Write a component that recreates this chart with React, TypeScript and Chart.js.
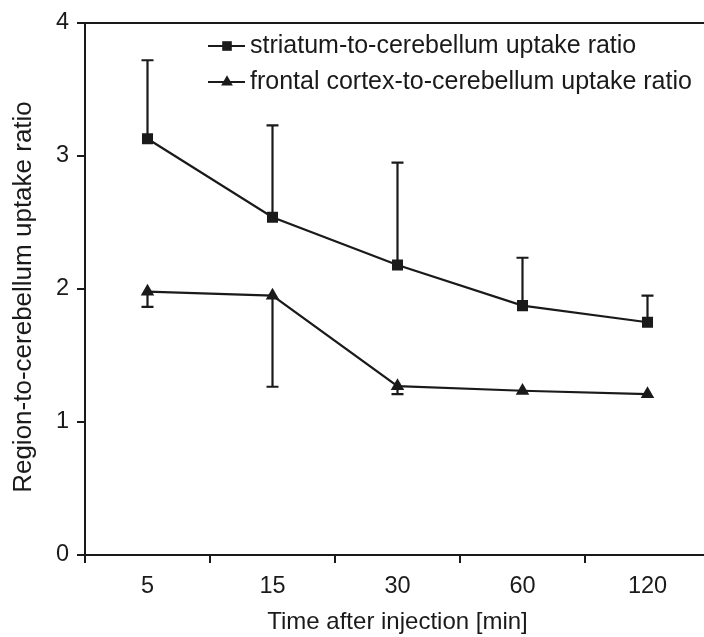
import React, { useEffect, useRef } from "react";
import { Chart, registerables } from "chart.js";

Chart.register(...registerables);

const categories = ["5", "15", "30", "60", "120"];
const striatumMean = [3.13, 2.54, 2.18, 1.875, 1.75];
const striatumUpper = [3.72, 3.23, 2.95, 2.235, 1.95];
const frontalMean = [1.98, 1.95, 1.27, 1.235, 1.21];
const frontalLower = [1.865, 1.265, 1.21, null, null];
const yTicks = [0, 1, 2, 3, 4];
const legendLabels = [
  "striatum-to-cerebellum uptake ratio",
  "frontal cortex-to-cerebellum uptake ratio",
];
const xTitle = "Time after injection [min]";
const yTitle = "Region-to-cerebellum uptake ratio";

const INK = "#1a1a1a";
const FONT = "'Liberation Sans', Arial, Helvetica, sans-serif";
const MARKER_R = 7.8;

function drawMarker(ctx: CanvasRenderingContext2D, style: string, x: number, y: number, r: number) {
  ctx.beginPath();
  if (style === "rect") {
    const s = Math.SQRT1_2 * r;
    ctx.rect(x - s, y - s, 2 * s, 2 * s);
  } else {
    let rad = 0;
    ctx.moveTo(x + Math.sin(rad) * r, y - Math.cos(rad) * r);
    rad += (2 * Math.PI) / 3;
    ctx.lineTo(x + Math.sin(rad) * r, y - Math.cos(rad) * r);
    rad += (2 * Math.PI) / 3;
    ctx.lineTo(x + Math.sin(rad) * r, y - Math.cos(rad) * r);
    ctx.closePath();
  }
  ctx.fill();
}

const errorBarPlugin = {
  id: "errorBars",
  beforeDatasetsDraw(chart: any) {
    const { ctx, scales } = chart;
    const x = scales.x;
    const y = scales.y;
    ctx.save();
    ctx.strokeStyle = INK;
    ctx.lineWidth = 2.2;
    const cap = 6;
    const drawBar = (i: number, from: number, to: number | null) => {
      if (to === null || to === undefined) return;
      const px = x.getPixelForValue(i);
      const y1 = y.getPixelForValue(from);
      const y2 = y.getPixelForValue(to);
      ctx.beginPath();
      ctx.moveTo(px, y1);
      ctx.lineTo(px, y2);
      ctx.moveTo(px - cap, y2);
      ctx.lineTo(px + cap, y2);
      ctx.stroke();
    };
    categories.forEach((_, i) => {
      drawBar(i, striatumMean[i], striatumUpper[i]);
      drawBar(i, frontalMean[i], frontalLower[i] as any);
    });
    ctx.restore();
  },
};

const frameAndLegendPlugin = {
  id: "frameLegend",
  afterDraw(chart: any) {
    const { ctx, chartArea } = chart;
    ctx.save();
    ctx.strokeStyle = INK;
    ctx.lineWidth = 2;
    ctx.beginPath();
    ctx.moveTo(chartArea.left, chartArea.top);
    ctx.lineTo(chartArea.right, chartArea.top);
    ctx.stroke();

    // y-axis title (slightly below centre, as in the reference)
    ctx.save();
    ctx.translate(24, (chartArea.top + chartArea.bottom) / 2 + 8);
    ctx.rotate(-Math.PI / 2);
    ctx.font = `26px ${FONT}`;
    ctx.fillStyle = INK;
    ctx.textAlign = "center";
    ctx.textBaseline = "middle";
    ctx.fillText(yTitle, 0, 0);
    ctx.restore();

    const lx = chartArea.left + 123;
    const styles = ["rect", "triangle"];
    legendLabels.forEach((label, i) => {
      const ly = chartArea.top + 23 + i * 36;
      ctx.strokeStyle = INK;
      ctx.lineWidth = 2;
      ctx.beginPath();
      ctx.moveTo(lx, ly);
      ctx.lineTo(lx + 37, ly);
      ctx.stroke();
      ctx.fillStyle = INK;
      drawMarker(ctx, styles[i], lx + 19, ly, 6.8);
      ctx.font = `25px ${FONT}`;
      ctx.textBaseline = "middle";
      ctx.textAlign = "left";
      ctx.fillText(label, lx + 42, ly);
    });
    ctx.restore();
  },
};

export default function App() {
  const ref = useRef<HTMLCanvasElement | null>(null);
  useEffect(() => {
    if (!ref.current) return;
    const chart = new Chart(ref.current, {
      type: "line",
      data: {
        labels: categories,
        datasets: [
          {
            label: legendLabels[0],
            data: striatumMean,
            borderColor: INK,
            backgroundColor: INK,
            borderWidth: 2.2,
            pointStyle: "rect",
            pointRadius: MARKER_R,
            pointBorderWidth: 0,
            tension: 0,
          },
          {
            label: legendLabels[1],
            data: frontalMean,
            borderColor: INK,
            backgroundColor: INK,
            borderWidth: 2.2,
            pointStyle: "triangle",
            pointRadius: MARKER_R,
            pointBorderWidth: 0,
            tension: 0,
          },
        ],
      },
      options: {
        responsive: false,
        animation: false,
        events: [],
        layout: { padding: { top: 23, left: 0, right: 10, bottom: 0 } },
        plugins: {
          legend: { display: false },
          tooltip: { enabled: false },
        },
        scales: {
          x: {
            type: "category",
            offset: true,
            grid: {
              offset: true,
              drawOnChartArea: false,
              drawTicks: true,
              tickLength: 8,
              color: INK,
              lineWidth: 2,
            },
            border: { display: true, color: INK, width: 2 },
            ticks: {
              color: INK,
              font: { family: FONT, size: 23.5 },
              padding: 9,
              maxRotation: 0,
            },
            title: {
              display: true,
              text: xTitle,
              color: INK,
              font: { family: FONT, size: 24 },
              padding: { top: 0, bottom: 0 },
            },
            afterFit(scale: any) {
              scale.height = 82;
            },
          },
          y: {
            min: 0,
            max: 4,
            afterBuildTicks(scale: any) {
              scale.ticks = yTicks.map((v) => ({ value: v }));
            },
            grid: {
              drawOnChartArea: false,
              drawTicks: true,
              tickLength: 8,
              color: INK,
              lineWidth: 2,
            },
            border: { display: true, color: INK, width: 2 },
            ticks: {
              color: INK,
              font: { family: FONT, size: 23.5 },
              padding: 8,
              callback: (v: any) => String(v),
            },
            title: { display: false },
            afterFit(scale: any) {
              scale.width = 85;
            },
          },
        },
      },
      plugins: [errorBarPlugin, frameAndLegendPlugin],
    } as any);
    return () => chart.destroy();
  }, []);

  return (
    <div
      style={{
        position: "fixed",
        left: 0,
        top: 0,
        width: 704,
        height: 637,
        overflow: "hidden",
        background: "#fff",
      }}
    >
      <canvas ref={ref} width={720} height={637} style={{ display: "block" }} />
    </div>
  );
}
